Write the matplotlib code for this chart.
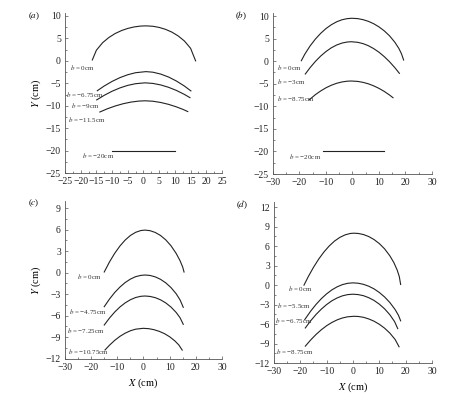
import matplotlib
matplotlib.use('Agg')
import matplotlib.pyplot as plt
from matplotlib.ticker import MultipleLocator

plt.rcParams['font.family'] = ['Liberation Serif', 'DejaVu Serif']
plt.rcParams['mathtext.fontset'] = 'stix'

# ---- panel (a) ----
a_x = [
    [-16.3, -15, -13, -11, -9, -7, -5, -3, -1, 0.8, 3, 5, 7, 9, 11, 13, 15, 16.6],
    [-14.7, -12.5, -10, -7.5, -5, -2.5, 0.8, 3, 5.5, 8, 10.5, 13, 15.1],
    [-14.9, -12.5, -10, -7.5, -5, -2.5, 0.5, 3, 5.5, 8, 10.5, 13, 14.8],
    [-13.9, -11.5, -9, -6.5, -4, -1.5, 0.5, 3, 5.5, 8, 10.5, 12.5, 14.1],
    [-10, -5, 0, 5, 10],
]
a_y = [
    [0.2, 2.37, 4.06, 5.22, 6.1, 6.75, 7.23, 7.56, 7.75, 7.8, 7.71, 7.45, 7.03, 6.42, 5.58, 4.45, 2.8, 0.0],
    [-6.65, -5.6, -4.58, -3.74, -3.09, -2.64, -2.4, -2.53, -2.95, -3.61, -4.5, -5.6, -6.7],
    [-8.7, -7.68, -6.77, -6.03, -5.46, -5.09, -4.9, -5.03, -5.37, -5.9, -6.6, -7.47, -8.2],
    [-11.4, -10.68, -10.06, -9.56, -9.19, -8.97, -8.9, -9.0, -9.28, -9.7, -10.26, -10.8, -11.3],
    [-20, -20, -20, -20, -20],
]
a_labels = ['0', '\u22126.75', '\u22129', '\u221211.5', '\u221220']
a_lab_pos = [(-23.4, -1.5), (-24.8, -7.5), (-23.1, -9.9), (-24.1, -13.0), (-19.5, -21.1)]

# ---- panel (b) ----
b_x = [
    [-19.3, -18, -16, -14, -12, -10, -8, -6, -4, -2, -0.2, 2, 4, 6, 8, 10, 12, 14, 16, 17.5, 18.5, 19.3],
    [-17.8, -16, -14, -12, -10, -8, -6, -4, -2, -0.45, 2, 4, 6, 8, 10, 12, 14, 16, 17.7],
    [-16.4, -14, -12, -10, -8, -6, -4, -2, -0.45, 2, 4, 6, 8, 10, 12, 14, 15.3],
    [-11.1, -5, 0, 5, 11.9],
]
b_y = [
    [0.1, 1.54, 3.37, 4.89, 6.16, 7.22, 8.06, 8.71, 9.16, 9.42, 9.5, 9.42, 9.19, 8.82, 8.29, 7.59, 6.71, 5.6, 4.18, 2.82, 1.62, 0.25],
    [-2.85, -1.44, -0.06, 1.13, 2.13, 2.95, 3.57, 4.0, 4.24, 4.3, 4.17, 3.88, 3.42, 2.78, 1.98, 1.0, -0.14, -1.45, -2.7],
    [-8.6, -7.42, -6.6, -5.9, -5.34, -4.91, -4.61, -4.44, -4.4, -4.49, -4.7, -5.02, -5.47, -6.03, -6.71, -7.51, -8.1],
    [-20, -20, -20, -20, -20],
]
b_labels = ['0', '\u22123', '\u22128.75', '\u221220']
b_lab_pos = [(-28.4, -1.45), (-28.4, -4.4), (-28.4, -8.2), (-23.8, -21.2)]

# ---- panel (c) ----
c_x = [
    [-15.0, -13, -11, -9, -7, -5, -3, -1, 0.6, 2.5, 4.5, 6.5, 8.5, 10.5, 12.5, 14, 15, 15.5],
    [-15.0, -13, -11, -9, -7, -5, -3, -1, 0.6, 2.5, 4.5, 6.5, 8.5, 10.5, 12.5, 14, 15.2],
    [-15.0, -13, -11, -9, -7, -5, -3, -1, 0.6, 2.5, 4.5, 6.5, 8.5, 10.5, 12.5, 14, 15.2],
    [-14.7, -13, -11, -9, -7, -5, -3, -0.1, 2, 4, 6, 8, 10, 12, 13.5, 14.8],
]
c_y = [
    [0.1, 1.5, 2.71, 3.73, 4.56, 5.2, 5.64, 5.89, 5.95, 5.87, 5.62, 5.2, 4.59, 3.77, 2.69, 1.66, 0.77, 0.1],
    [-4.74, -3.68, -2.76, -2.0, -1.37, -0.89, -0.55, -0.37, -0.32, -0.38, -0.58, -0.92, -1.41, -2.07, -2.94, -3.81, -4.83],
    [-7.3, -6.33, -5.49, -4.78, -4.21, -3.77, -3.46, -3.29, -3.25, -3.31, -3.48, -3.78, -4.21, -4.79, -5.55, -6.3, -7.2],
    [-10.78, -10.12, -9.44, -8.88, -8.44, -8.1, -7.88, -7.76, -7.81, -7.95, -8.18, -8.5, -8.94, -9.52, -10.08, -10.8],
]
c_labels = ['0', '\u22124.75', '\u22127.25', '\u221210.75']
c_lab_pos = [(-25.3, -0.46), (-28.4, -5.4), (-29.4, -8.0), (-29.0, -11.0)]

# ---- panel (d) ----
d_x = [
    [-18.6, -17, -15, -13, -11, -9, -7, -5, -3, -1, 0.4, 2, 4, 6, 8, 10, 12, 14, 15.5, 16.8, 17.6, 18.1],
    [-18.3, -16, -14, -12, -10, -8, -6, -4, -2, 0, 2, 4, 6, 8, 10, 12, 14, 16, 17.3, 18.1],
    [-18.1, -16, -14, -12, -10, -8, -6, -4, -2, 0, 2, 4, 6, 8, 10, 12, 14, 15.8, 17.0],
    [-18.1, -16, -14, -12, -10, -8, -6, -4, -2, 0.4, 2, 4, 6, 8, 10, 12, 14, 16, 17.5],
]
d_y = [
    [0.0, 1.29, 2.74, 4.02, 5.12, 6.04, 6.79, 7.35, 7.74, 7.96, 8.0, 7.96, 7.79, 7.48, 7.02, 6.4, 5.59, 4.52, 3.49, 2.31, 1.3, 0.1],
    [-5.3, -3.97, -2.96, -2.08, -1.34, -0.73, -0.26, 0.08, 0.28, 0.35, 0.29, 0.12, -0.17, -0.58, -1.13, -1.82, -2.68, -3.76, -4.67, -5.5],
    [-6.6, -5.46, -4.51, -3.69, -2.99, -2.41, -1.97, -1.65, -1.46, -1.4, -1.46, -1.63, -1.94, -2.36, -2.93, -3.65, -4.56, -5.62, -6.7],
    [-9.4, -8.42, -7.59, -6.87, -6.25, -5.75, -5.35, -5.06, -4.88, -4.8, -4.83, -4.96, -5.21, -5.56, -6.03, -6.63, -7.39, -8.37, -9.5],
]
d_labels = ['0', '\u22125.5', '\u22126.75', '\u22128.75']
d_lab_pos = [(-24.6, -0.5), (-28.7, -3.1), (-29.6, -5.5), (-29.2, -10.2)]


def panel(rect, xs, ys, labels, lab_pos, xlim, ylim, xmaj, ymaj, tag,
          ylabel=False, xlabel=False):
    ax = fig.add_axes(rect)
    for x, y in zip(xs, ys):
        ax.plot(x, y, color='#222222', lw=0.8)
    for lab, (tx, ty) in zip(labels, lab_pos):
        ax.text(tx, ty, r'$b$ = ' + lab + 'cm', fontsize=5, va='center',
                ha='left', color='#333333')
    ax.set_xlim(*xlim)
    ax.set_ylim(*ylim)
    ax.xaxis.set_major_locator(MultipleLocator(xmaj))
    ax.xaxis.set_minor_locator(MultipleLocator(xmaj / 2))
    ax.yaxis.set_major_locator(MultipleLocator(ymaj))
    ax.yaxis.set_minor_locator(MultipleLocator(ymaj / 2))
    ax.set_xticks([t for t in ax.get_xticks() if xlim[0] <= t <= xlim[1]])
    ax.set_yticks([t for t in ax.get_yticks() if ylim[0] - 0.01 <= t <= ylim[1]])
    for s in ['top', 'right']:
        ax.spines[s].set_visible(False)
    for s in ['left', 'bottom']:
        ax.spines[s].set_linewidth(0.6)
        ax.spines[s].set_color('#555555')
    ax.tick_params(which='both', direction='in', width=0.5, colors='#555555',
                   labelcolor='#222222', labelsize=7, pad=3)
    ax.tick_params(which='major', length=2.5)
    ax.tick_params(which='minor', length=1.5)
    ax.text(-0.2, 0.985, '(' + tag + ')', transform=ax.transAxes, fontsize=6.5,
            ha='center', va='center')
    if ylabel:
        ax.set_ylabel(r'$Y$ (cm)', fontsize=7.5, labelpad=2)
    if xlabel:
        ax.set_xlabel(r'$X$ (cm)', fontsize=7.5, labelpad=3)
    return ax


fig = plt.figure(figsize=(4.51, 3.97), dpi=100)

panel([0.1441, 0.5642, 0.3481, 0.4023], a_x, a_y, a_labels, a_lab_pos,
      (-25, 25), (-25, 10.6), 5, 5, r'$a$', ylabel=True)
panel([0.6053, 0.5617, 0.3525, 0.4048], b_x, b_y, b_labels, b_lab_pos,
      (-30, 30), (-25, 10.6), 10, 5, r'$b$')
panel([0.1441, 0.0965, 0.3481, 0.3970], c_x, c_y, c_labels, c_lab_pos,
      (-30, 30), (-12, 10.0), 10, 3, r'$c$', ylabel=True, xlabel=True)
panel([0.6075, 0.0856, 0.3503, 0.4055], d_x, d_y, d_labels, d_lab_pos,
      (-30, 30), (-12, 12.8), 10, 3, r'$d$', xlabel=True)

fig.savefig('out.png', dpi=100)
